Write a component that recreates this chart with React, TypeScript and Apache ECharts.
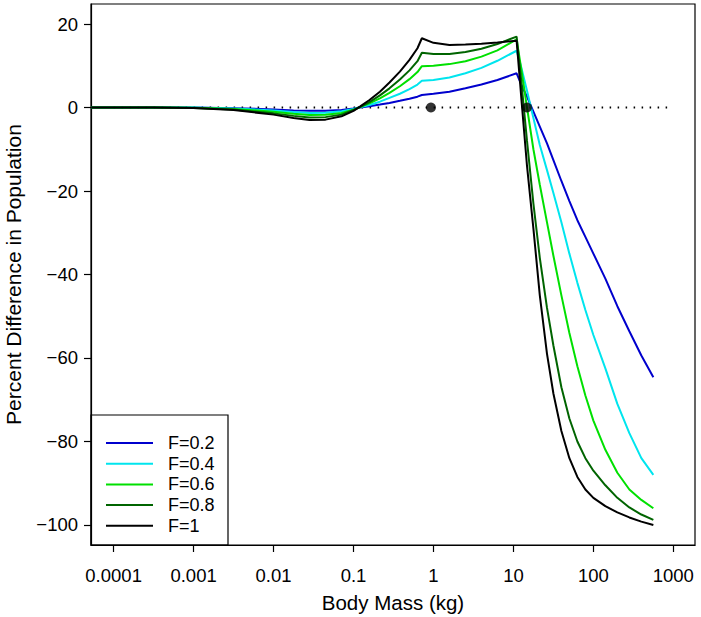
import React, { useEffect, useRef } from "react";
import * as echarts from "echarts";

// log10 of body mass (kg)
const logMass = [
  -4.28, -3.5, -3.0, -2.5, -2.0, -1.75, -1.55, -1.35, -1.15, -1.0, -0.92, -0.8, -0.67, -0.55, -0.42, -0.3, -0.2, -0.145,
  0.0, 0.2, 0.4, 0.6, 0.8, 1.04,
  1.1, 1.17, 1.25, 1.33, 1.42, 1.5, 1.6, 1.7, 1.8, 1.9, 2.0, 2.15, 2.3, 2.45, 2.6, 2.75,
];

const seriesNames = ["F=0.2", "F=0.4", "F=0.6", "F=0.8", "F=1"];
const seriesColors = ["#0000CD", "#00E5EE", "#00E000", "#006400", "#000000"];

const f02 = [
  0, 0, 0, -0.15, -0.45, -0.7, -0.8, -0.8, -0.6, -0.25, 0, 0.3, 0.7, 1.1, 1.6, 2.1, 2.6, 3.0,
  3.3, 3.8, 4.6, 5.5, 6.6, 8.2,
  5.4, 2.6, -1.0, -4.6, -8.6, -12.6, -17.6, -22.4, -27, -31, -35, -41, -47.6, -53.6, -59.4, -64.6,
];
const f04 = [
  0, 0, 0, -0.25, -0.7, -1.1, -1.3, -1.25, -0.9, -0.35, 0.05, 0.6, 1.4, 2.3, 3.3, 4.4, 5.5, 6.4,
  6.6, 7.2, 8.2, 9.5, 11.2, 13.6,
  9.5, 4.0, -2.5, -9, -15, -20.5, -27.5, -35, -42, -48.5, -54.5, -62.5, -71, -78, -84, -88,
];
const f06 = [
  0, 0, -0.05, -0.35, -1.0, -1.5, -1.8, -1.75, -1.3, -0.5, 0.1, 1.0, 2.2, 3.5, 5.1, 6.8, 8.5, 9.9,
  10.0, 10.4, 11.1, 12.2, 13.7, 16.3,
  9, 0, -10, -18.5, -27.5, -35.5, -45, -54, -62, -69, -75, -82, -87.5, -91.5, -94, -96,
];
const f08 = [
  0, 0, -0.1, -0.5, -1.4, -2.0, -2.4, -2.3, -1.7, -0.6, 0.1, 1.3, 2.9, 4.6, 6.7, 8.9, 11.1, 13.1,
  12.8, 12.8, 13.3, 14.1, 15.2, 17.0,
  6, -8, -23, -36, -48, -57, -67, -74.5, -80, -84, -87, -90.5, -93.5, -95.8, -97.5, -98.8,
];
const f10 = [
  0, 0, -0.1, -0.6, -1.7, -2.5, -3.0, -2.9, -2.1, -0.8, 0.2, 1.8, 3.8, 6.0, 8.6, 11.4, 14.2, 16.6,
  15.5, 15.0, 15.1, 15.3, 15.6, 16.0,
  2, -14, -29, -45, -59, -68.5, -77.5, -84, -88.5, -91.5, -93.5, -95.5, -97, -98.2, -99.2, -100,
];
const seriesValues = [f02, f04, f06, f08, f10];

const xTickLogs = [-4, -3, -2, -1, 0, 1, 2, 3];
const xTickLabels = ["0.0001", "0.001", "0.01", "0.1", "1", "10", "100", "1000"];
const yTicks = [-100, -80, -60, -40, -20, 0, 20];

const refLineMass = [0.0001, 1000];
const dotMass = [0.93, 14.8];

const FONT = "'Liberation Sans', Arial, Helvetica, sans-serif";

export default function App() {
  const ref = useRef<HTMLDivElement>(null);

  useEffect(() => {
    if (!ref.current) return;
    const chart = echarts.init(ref.current, null, { renderer: "svg" });

    const lineSeries = seriesNames.map((name, k) => ({
      name,
      type: "line",
      data: logMass.map((x, i) => [x, seriesValues[k][i]]),
      showSymbol: false,
      symbol: "none",
      color: seriesColors[k],
      itemStyle: { color: seriesColors[k] },
      lineStyle: { color: seriesColors[k], width: 2 },
      emphasis: { disabled: true },
      z: 3 + k,
    }));

    chart.setOption({
      animation: false,
      textStyle: { fontFamily: FONT },
      grid: {
        left: 91,
        top: 4,
        width: 604,
        height: 541,
        show: true,
        borderColor: "#000",
        borderWidth: 1.2,
        backgroundColor: "transparent",
        containLabel: false,
        outerBoundsMode: "none",
      },
      xAxis: {
        type: "value",
        min: -4.283,
        max: 3.271,
        splitLine: { show: false },
        axisLine: { show: true, onZero: false, lineStyle: { color: "#000", width: 1.2 } },
        axisTick: {
          show: true,
          customValues: xTickLogs,
          length: 7,
          lineStyle: { color: "#000", width: 1.2 },
        },
        axisLabel: {
          customValues: xTickLogs,
          formatter: (v: number) => xTickLabels[xTickLogs.indexOf(Math.round(v))] ?? "",
          fontSize: 18.5,
          color: "#000",
          margin: 21,
          fontFamily: FONT,
        },
        name: "Body Mass (kg)",
        nameLocation: "middle",
        nameGap: 47,
        nameTextStyle: { fontSize: 20.5, color: "#000", fontFamily: FONT },
      },
      yAxis: {
        type: "value",
        min: -104.8,
        max: 24.8,
        splitLine: { show: false },
        axisLine: { show: true, onZero: false, lineStyle: { color: "#000", width: 1.2 } },
        axisTick: {
          show: true,
          customValues: yTicks,
          length: 7,
          lineStyle: { color: "#000", width: 1.2 },
        },
        axisLabel: {
          customValues: yTicks,
          formatter: (v: number) => String(Math.round(v)).replace("-", "\u2212"),
          fontSize: 18.5,
          color: "#000",
          margin: 13,
          fontFamily: FONT,
        },
        name: "Percent Difference in Population",
        nameLocation: "middle",
        nameGap: 67,
        nameTextStyle: { fontSize: 21, color: "#000", fontFamily: FONT },
      },
      legend: {
        data: seriesNames,
        orient: "vertical",
        left: 106,
        top: 434,
        padding: 0,
        itemWidth: 47,
        itemHeight: 2,
        itemGap: 2.7,
        icon: "rect",
        selectedMode: false,
        textStyle: { fontSize: 18, color: "#000", fontFamily: FONT, padding: [0, 0, 0, 10] },
      },
      graphic: [
        {
          type: "rect",
          shape: { x: 91, y: 415, width: 137, height: 130 },
          style: { fill: "none", stroke: "#000", lineWidth: 1.2 },
          z: 10,
        },
      ],
      series: [
        {
          name: "ref",
          type: "line",
          data: refLineMass.map((m) => [Math.log10(m), 0]),
          showSymbol: false,
          symbol: "none",
          lineStyle: { color: "#000", width: 2, type: [1.5, 6.5] },
          emphasis: { disabled: true },
          z: 2,
        },
        ...lineSeries,
        {
          name: "dots",
          type: "scatter",
          data: dotMass.map((m) => [Math.log10(m), 0]),
          symbol: "circle",
          symbolSize: 10,
          itemStyle: { color: "#000" },
          emphasis: { disabled: true },
          z: 20,
        },
      ],
    });

    return () => chart.dispose();
  }, []);

  return (
    <div
      ref={ref}
      style={{ position: "absolute", left: 0, top: 0, width: 701, height: 617 }}
    />
  );
}
